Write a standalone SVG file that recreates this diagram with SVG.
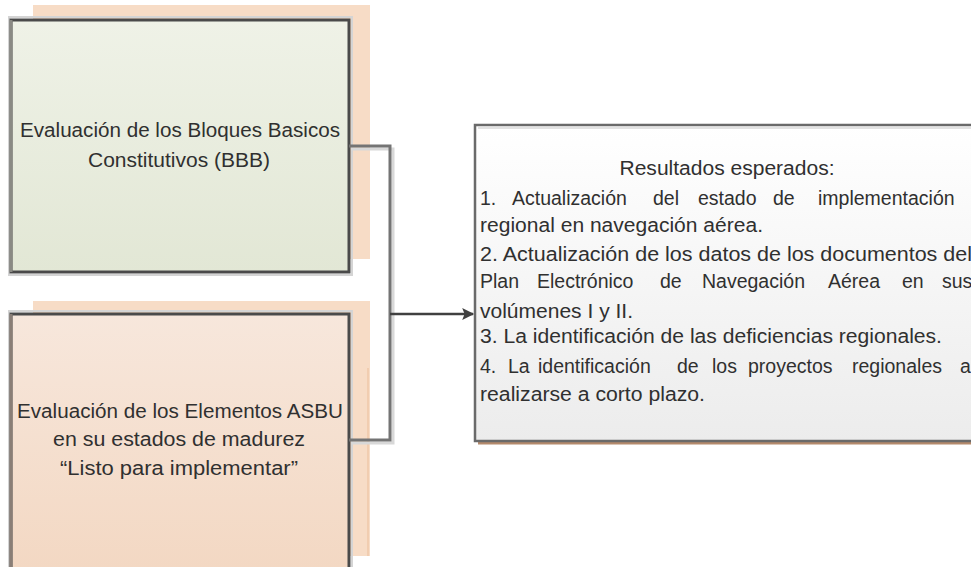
<svg xmlns="http://www.w3.org/2000/svg" width="971" height="567" viewBox="0 0 971 567">
<defs>
<linearGradient id="gGreen" x1="0" y1="0" x2="0" y2="1"><stop offset="0" stop-color="#eff2e7"/><stop offset="1" stop-color="#e2e7d5"/></linearGradient>
<linearGradient id="gPeach" x1="0" y1="0" x2="0" y2="1"><stop offset="0" stop-color="#f7e7dc"/><stop offset="1" stop-color="#f3d8c3"/></linearGradient>
<linearGradient id="gWhite" x1="0" y1="0" x2="0" y2="1"><stop offset="0" stop-color="#ffffff"/><stop offset="1" stop-color="#ececec"/></linearGradient>
<marker id="arr" viewBox="0 0 10 10" refX="9" refY="5" markerWidth="13" markerHeight="12" orient="auto" markerUnits="userSpaceOnUse"><path d="M0,0 L10,5 L0,10 L2,5 z" fill="#404040"/></marker>
</defs>
<style>
.back{fill:#f7dcc6}
.box{stroke:#4a4a4a;stroke-width:3}
.halo{fill:none;stroke:#d4d4d4;stroke-width:2}
.t{font-family:"Liberation Sans",Arial,sans-serif;font-size:19.5px;fill:#303030}
.c{text-anchor:middle}
.br{fill:none;stroke:#747474;stroke-width:3}
.brs{fill:none;stroke:#d8d8d8;stroke-width:3}
</style>
<rect width="971" height="567" fill="#ffffff"/>
<g id="node-bbb">
<rect class="back" x="33" y="5" width="337" height="254"/>
<rect class="halo" x="9" y="17" width="343" height="258"/>
<rect class="box" x="11" y="20" width="338" height="252" fill="url(#gGreen)"/>
<line x1="11" y1="20" x2="11" y2="272" stroke="#8a8a84" stroke-width="3"/>
<text class="t c" x="180" y="137" textLength="320" lengthAdjust="spacingAndGlyphs">Evaluación de los Bloques Basicos</text>
<text class="t c" x="179" y="167" textLength="182" lengthAdjust="spacingAndGlyphs">Constitutivos (BBB)</text>
</g>
<g id="node-asbu">
<rect class="back" x="33" y="301" width="337" height="255"/>
<line x1="368" y1="368" x2="368" y2="556" stroke="#f1cdb0" stroke-width="2"/>
<rect class="halo" x="9" y="311" width="343" height="258"/>
<rect class="box" x="11" y="314" width="338" height="255" fill="url(#gPeach)"/>
<line x1="11" y1="314" x2="11" y2="567" stroke="#8a7e76" stroke-width="3"/>
<text class="t c" x="180" y="418" textLength="326" lengthAdjust="spacingAndGlyphs">Evaluación de los Elementos ASBU</text>
<text class="t c" x="179" y="446" textLength="252" lengthAdjust="spacingAndGlyphs">en su estados de madurez</text>
<text class="t c" x="179" y="475" textLength="238" lengthAdjust="spacingAndGlyphs">“Listo para implementar”</text>
</g>
<g id="node-resultados">
<line x1="478" y1="443" x2="971" y2="443" stroke="#b48a6c" stroke-width="3"/>
<rect x="475" y="125" width="500" height="316" fill="url(#gWhite)" stroke="#6a6a6a" stroke-width="2.5"/>
<line x1="478" y1="128" x2="971" y2="128" stroke="#d8d8d8" stroke-width="1.5"/>
<text class="t c" x="727" y="175" textLength="215" lengthAdjust="spacingAndGlyphs">Resultados esperados:</text>
<text class="t" y="205"><tspan x="480">1.</tspan><tspan x="512">Actualización</tspan><tspan x="653">del</tspan><tspan x="698">estado</tspan><tspan x="773">de</tspan><tspan x="818">implementación</tspan></text>
<text class="t" x="480" y="232" textLength="283" lengthAdjust="spacingAndGlyphs">regional en navegación aérea.</text>
<text class="t" x="480" y="261" textLength="492" lengthAdjust="spacingAndGlyphs">2. Actualización de los datos de los documentos del</text>
<text class="t" y="288"><tspan x="480">Plan</tspan><tspan x="537">Electrónico</tspan><tspan x="660">de</tspan><tspan x="702">Navegación</tspan><tspan x="828">Aérea</tspan><tspan x="902">en</tspan><tspan x="942">sus</tspan></text>
<text class="t" x="480" y="318" textLength="153" lengthAdjust="spacingAndGlyphs">volúmenes I y II.</text>
<text class="t" x="480" y="343" textLength="462" lengthAdjust="spacingAndGlyphs">3. La identificación de las deficiencias regionales.</text>
<text class="t" y="373"><tspan x="480">4.</tspan><tspan x="508">La</tspan><tspan x="538">identificación</tspan><tspan x="677">de</tspan><tspan x="712">los</tspan><tspan x="748">proyectos</tspan><tspan x="852">regionales</tspan><tspan x="960">a</tspan></text>
<text class="t" x="480" y="401" textLength="225" lengthAdjust="spacingAndGlyphs">realizarse a corto plazo.</text>
</g>
<g id="connectors">
<path class="brs" d="M351,149 H393 V443 H351"/>
<path class="br" d="M349,146 H390 V440 H349"/>
<line x1="390" y1="314" x2="473" y2="314" stroke="#404040" stroke-width="2.5" marker-end="url(#arr)"/>
</g>
</svg>
